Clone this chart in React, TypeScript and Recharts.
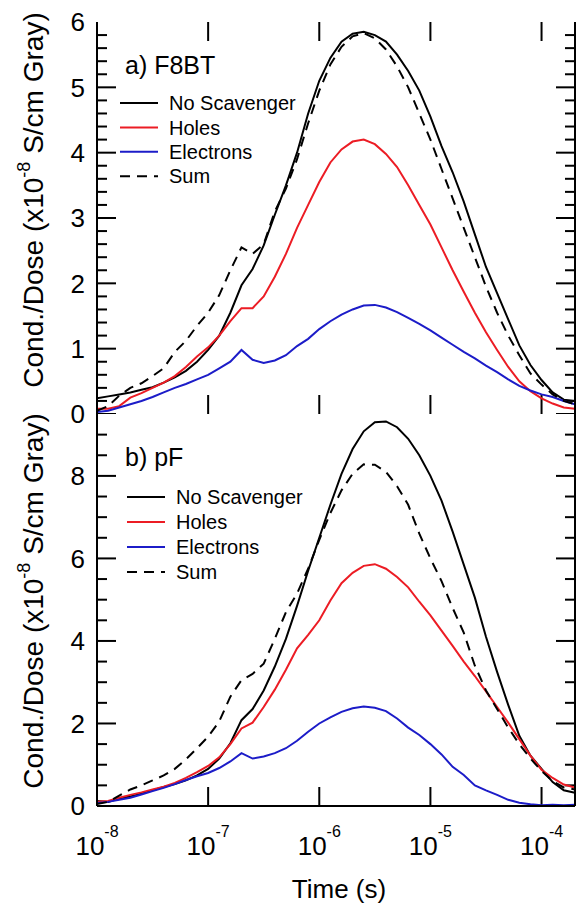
import React from "react";
import { LineChart, Line, XAxis, YAxis, Legend, ReferenceLine, ReferenceArea } from "recharts";

// time grid as log10(t / s)
const LOG_TIME = [
  -8.0, -7.9, -7.8, -7.7, -7.6, -7.5, -7.4, -7.3, -7.2, -7.1, -7.0, -6.9, -6.8, -6.7, -6.6,
  -6.5, -6.4, -6.3, -6.2, -6.1, -6.0, -5.9, -5.8, -5.7, -5.6, -5.5, -5.4, -5.3, -5.2, -5.1,
  -5.0, -4.9, -4.8, -4.7, -4.6, -4.5, -4.4, -4.3, -4.2, -4.1, -4.0, -3.9, -3.8, -3.7,
];

// a) F8BT
const F8BT_NO_SCAVENGER = [
  0.24, 0.27, 0.3, 0.33, 0.37, 0.41, 0.48, 0.56, 0.66, 0.8, 0.98, 1.2, 1.55, 1.97, 2.22,
  2.58, 3.05, 3.5, 4.0, 4.6, 5.1, 5.45, 5.7, 5.82, 5.85, 5.8, 5.7, 5.5, 5.25, 4.95,
  4.55, 4.1, 3.7, 3.25, 2.75, 2.25, 1.85, 1.45, 1.05, 0.75, 0.52, 0.33, 0.22, 0.2,
];
const F8BT_HOLES = [
  0.08, 0.08, 0.12, 0.25, 0.32, 0.4, 0.48, 0.58, 0.72, 0.88, 1.02, 1.2, 1.42, 1.62, 1.62,
  1.8, 2.1, 2.45, 2.85, 3.2, 3.55, 3.85, 4.05, 4.17, 4.2, 4.13, 3.98, 3.78, 3.5, 3.2,
  2.9, 2.55, 2.2, 1.87, 1.55, 1.25, 0.98, 0.72, 0.5, 0.35, 0.24, 0.16, 0.1, 0.08,
];
const F8BT_ELECTRONS = [
  0.03, 0.05, 0.1, 0.15, 0.2, 0.26, 0.33, 0.4, 0.46, 0.53, 0.6, 0.7, 0.8, 0.98, 0.83,
  0.78, 0.82, 0.9, 1.04, 1.15, 1.3, 1.42, 1.52, 1.6, 1.66, 1.67, 1.63, 1.56, 1.47, 1.38,
  1.28, 1.17, 1.06, 0.95, 0.85, 0.74, 0.64, 0.53, 0.43, 0.36, 0.3, 0.26, 0.2, 0.15,
];
const F8BT_SUM = [
  0.05, 0.12, 0.28, 0.4, 0.47, 0.58, 0.7, 0.95, 1.12, 1.35, 1.55, 1.82, 2.2, 2.55, 2.45,
  2.6, 3.1, 3.45, 3.9, 4.45, 4.95, 5.35, 5.62, 5.78, 5.83, 5.75, 5.58, 5.32, 5.0, 4.6,
  4.2, 3.75, 3.3, 2.85, 2.4, 1.95, 1.55, 1.2, 0.9, 0.62, 0.45, 0.3, 0.2, 0.15,
];

// b) pF
const PF_NO_SCAVENGER = [
  0.12, 0.1, 0.18, 0.23, 0.3, 0.38, 0.46, 0.53, 0.62, 0.74, 0.9, 1.15, 1.52, 2.08, 2.35,
  2.8, 3.38, 4.05, 4.85, 5.7, 6.5, 7.3, 8.05, 8.65, 9.08, 9.3, 9.32, 9.18, 8.9, 8.5,
  8.0, 7.4, 6.65, 5.85, 5.05, 4.1, 3.25, 2.45, 1.7, 1.22, 0.9, 0.58, 0.38, 0.32,
];
const PF_HOLES = [
  0.1, 0.12, 0.2, 0.27, 0.33, 0.4, 0.47, 0.56, 0.68, 0.82, 0.97, 1.18, 1.5, 1.88, 2.02,
  2.4, 2.82, 3.3, 3.82, 4.15, 4.5, 4.98, 5.4, 5.65, 5.82, 5.86, 5.75, 5.55, 5.3, 4.95,
  4.62, 4.25, 3.88, 3.5, 3.15, 2.78, 2.4, 2.02, 1.62, 1.22, 0.88, 0.68, 0.52, 0.45,
];
const PF_ELECTRONS = [
  0.07, 0.1, 0.15, 0.2, 0.28, 0.36, 0.44, 0.53, 0.63, 0.72, 0.8, 0.92, 1.08, 1.28, 1.15,
  1.2, 1.28, 1.4, 1.58, 1.8, 2.0, 2.15, 2.28, 2.37, 2.41, 2.38, 2.3, 2.12, 1.9, 1.72,
  1.5, 1.25, 0.95, 0.75, 0.5, 0.38, 0.27, 0.15, 0.08, 0.04, 0.02, 0.03, 0.02, 0.03,
];
const PF_SUM = [
  0.05, 0.1, 0.25, 0.4, 0.5, 0.62, 0.74, 0.9, 1.13, 1.4, 1.68, 2.05, 2.65, 3.05, 3.2,
  3.45, 4.05, 4.7, 5.15, 5.75, 6.45, 7.1, 7.65, 8.05, 8.28, 8.27, 8.1, 7.75, 7.3, 6.6,
  6.0, 5.45, 4.8, 4.2, 3.4, 2.8, 2.35, 1.9, 1.5, 1.15, 0.85, 0.6, 0.45, 0.4,
];

const X_TICKS = [1e-8, 1e-7, 1e-6, 1e-5, 1e-4];
const X_MIN = 1e-8;
const X_MAX = 2e-4;
const F8BT_Y_MAJOR = [0, 1, 2, 3, 4, 5, 6];
const F8BT_Y_MINOR = Array.from({ length: 30 }, (_, i) => Number((i * 0.2).toFixed(1)));
const PF_Y_MAJOR = [0, 2, 4, 6, 8];
const PF_Y_MINOR = Array.from({ length: 19 }, (_, i) => i * 0.5);

const FONT = '"Liberation Sans", Arial, Helvetica, sans-serif';
const RED = "#ec1c24";
const BLUE = "#1c1cc8";
const AXIS_LINE = { stroke: "#000", strokeWidth: 2 };
const PLOT_LEFT = 97;
const PLOT_RIGHT = 575;
const PLOT_W = PLOT_RIGHT - PLOT_LEFT;
const PLOT_H = 392;
const MAJOR_PX = 19;
const MINOR_PX = 10;

const SERIES = [
  { key: "noScavenger", name: "No Scavenger", color: "#000", dash: undefined },
  { key: "holes", name: "Holes", color: RED, dash: undefined },
  { key: "electrons", name: "Electrons", color: BLUE, dash: undefined },
  { key: "sum", name: "Sum", color: "#000", dash: "10 7" },
];

const f8btData = LOG_TIME.map((lt, i) => ({
  t: 10 ** lt,
  noScavenger: F8BT_NO_SCAVENGER[i],
  holes: F8BT_HOLES[i],
  electrons: F8BT_ELECTRONS[i],
  sum: F8BT_SUM[i],
}));

const pfData = LOG_TIME.map((lt, i) => ({
  t: 10 ** lt,
  noScavenger: PF_NO_SCAVENGER[i],
  holes: PF_HOLES[i],
  electrons: PF_ELECTRONS[i],
  sum: PF_SUM[i],
}));

// frame ticks point inward; sizes in px turned into data units
const pxPerDecade = PLOT_W / Math.log10(X_MAX / X_MIN);
const xFactor = (px: number) => 10 ** (px / pxPerDecade);

function timeTicks(yMax: number, withTop: boolean) {
  const dy = (MAJOR_PX * yMax) / PLOT_H;
  const segs: { x: number; y: number }[][] = [];
  X_TICKS.slice(1).forEach((t) => {
    segs.push([{ x: t, y: 0 }, { x: t, y: dy }]);
    if (withTop) segs.push([{ x: t, y: yMax - dy }, { x: t, y: yMax }]);
  });
  return segs;
}

// y ticks as thin boxes: [x1, x2, y1, y2]
function valueTicks(yMax: number, yMajor: number[], yMinor: number[]) {
  const half = yMax / PLOT_H;
  const boxes: number[][] = [];
  yMinor.forEach((v) => {
    const f = xFactor(yMajor.includes(v) ? MAJOR_PX : MINOR_PX);
    const y1 = Math.max(0, v - half);
    const y2 = Math.min(yMax, v + half);
    boxes.push([X_MIN, X_MIN * f, y1, y2]);
    boxes.push([X_MAX / f, X_MAX, y1, y2]);
  });
  return boxes;
}

function YTickLabel({ x = 0, y = 0, payload }: any) {
  return (
    <text x={x - 12} y={y} dy="0.36em" textAnchor="end" fontSize={26} fontFamily={FONT} fill="#000">
      {payload?.value}
    </text>
  );
}

function XTickLabel({ x = 0, y = 0, payload }: any) {
  const exp = Math.round(Math.log10(payload?.value ?? 1));
  return (
    <text x={x} y={y + 49} textAnchor="middle" fontSize={26} fontFamily={FONT} fill="#000">
      10
      <tspan dy={-18} fontSize={16}>
        {exp}
      </tspan>
    </text>
  );
}

function YLabel({ viewBox, shift }: any) {
  const cx = 43;
  const cy = viewBox.y + viewBox.height / 2 + shift;
  return (
    <text
      x={cx}
      y={cy}
      transform={`rotate(-90 ${cx} ${cy})`}
      textAnchor="middle"
      fontSize={28}
      fontFamily={FONT}
      fill="#000"
    >
      Cond./Dose (x10
      <tspan dy={-13} fontSize={18}>
        -8
      </tspan>
      <tspan dy={13}> S/cm Gray)</tspan>
    </text>
  );
}

function TimeLabel({ viewBox }: any) {
  return (
    <text
      x={viewBox.x + viewBox.width / 2 + 3}
      y={viewBox.y + 92}
      textAnchor="middle"
      fontSize={26}
      fontFamily={FONT}
      fill="#000"
    >
      Time (s)
    </text>
  );
}

function PanelLegend({ payload = [], title, layout, size }: any) {
  return (
    <svg width={size.w} height={size.h} style={{ display: "block" }}>
      <text x={125} y={layout.titleY} fontSize={25} fontFamily={FONT} fill="#000">
        {title}
      </text>
      {SERIES.map((s, i) => {
        const entry = payload.find((e: any) => e.dataKey === s.key) || {};
        const y = layout.rowY + i * layout.rowGap;
        return (
          <g key={s.key}>
            <line
              x1={layout.lineX}
              x2={layout.lineX + 38}
              y1={y}
              y2={y}
              stroke={entry.color || s.color}
              strokeWidth={2}
              strokeDasharray={s.dash}
            />
            <text x={layout.lineX + 49} y={y} dy="0.36em" fontSize={20} fontFamily={FONT} fill="#000">
              {entry.value || s.name}
            </text>
          </g>
        );
      })}
    </svg>
  );
}

interface PanelProps {
  top: number;
  height: number;
  marginTop: number;
  marginBottom: number;
  xAxisHeight: number;
  data: any[];
  yMax: number;
  yMajor: number[];
  yMinor: number[];
  showTopTicks: boolean;
  showXLabels: boolean;
  title: string;
  legendLayout: { titleY: number; rowY: number; rowGap: number; lineX: number };
  labelShift: number;
}

function Panel(p: PanelProps) {
  const tTicks = timeTicks(p.yMax, p.showTopTicks);
  const vTicks = valueTicks(p.yMax, p.yMajor, p.yMinor);
  return (
    <div style={{ position: "absolute", left: 0, top: p.top }}>
      <LineChart
        width={577}
        height={p.height}
        data={p.data}
        margin={{ top: p.marginTop, right: 0, bottom: p.marginBottom, left: 0 }}
      >
        <XAxis
          xAxisId="bottom"
          dataKey="t"
          type="number"
          scale="log"
          domain={[X_MIN, X_MAX]}
          allowDataOverflow
          ticks={X_TICKS}
          interval={0}
          height={p.xAxisHeight}
          axisLine={AXIS_LINE}
          tickLine={false}
          tickSize={0}
          tickMargin={0}
          tick={p.showXLabels ? (t: any) => <XTickLabel {...t} /> : false}
          label={p.showXLabels ? (l: any) => <TimeLabel {...l} /> : undefined}
        />
        <XAxis
          xAxisId="top"
          orientation="top"
          dataKey="t"
          type="number"
          scale="log"
          domain={[X_MIN, X_MAX]}
          allowDataOverflow
          ticks={X_TICKS}
          height={0}
          axisLine={p.showTopTicks ? AXIS_LINE : false}
          tickLine={false}
          tick={false}
        />
        <YAxis
          yAxisId="left"
          type="number"
          domain={[0, p.yMax]}
          allowDataOverflow
          ticks={p.yMajor}
          interval={0}
          width={97}
          axisLine={AXIS_LINE}
          tickLine={false}
          tickSize={0}
          tickMargin={0}
          tick={(t: any) => <YTickLabel {...t} />}
          label={(l: any) => <YLabel {...l} shift={p.labelShift} />}
        />
        <YAxis
          yAxisId="right"
          orientation="right"
          type="number"
          domain={[0, p.yMax]}
          allowDataOverflow
          ticks={p.yMajor}
          width={2}
          axisLine={AXIS_LINE}
          tickLine={false}
          tick={false}
        />
        {tTicks.map((seg, i) => (
          <ReferenceLine
            key={`t-${i}`}
            xAxisId="bottom"
            yAxisId="left"
            segment={seg}
            stroke="#000"
            strokeWidth={2}
            ifOverflow="visible"
          />
        ))}
        {vTicks.map(([x1, x2, y1, y2], i) => (
          <ReferenceArea
            key={`v-${i}`}
            xAxisId="bottom"
            yAxisId="left"
            x1={x1}
            x2={x2}
            y1={y1}
            y2={y2}
            fill="#000"
            fillOpacity={1}
            stroke="none"
            ifOverflow="visible"
          />
        ))}
        <Legend
          layout="vertical"
          align="center"
          verticalAlign="middle"
          wrapperStyle={{ left: 0, top: 0, width: 577, height: p.height, pointerEvents: "none" }}
          content={(lp: any) => (
            <PanelLegend {...lp} title={p.title} layout={p.legendLayout} size={{ w: 577, h: p.height }} />
          )}
        />
        {SERIES.map((s) => (
          <Line
            key={s.key}
            xAxisId="bottom"
            yAxisId="left"
            type="linear"
            dataKey={s.key}
            name={s.name}
            stroke={s.color}
            strokeWidth={2}
            strokeDasharray={s.dash}
            dot={false}
            activeDot={false}
            isAnimationActive={false}
          />
        ))}
      </LineChart>
    </div>
  );
}

export default function App() {
  return (
    <div style={{ position: "absolute", left: 0, top: 0, width: 577, height: 903, background: "#fff" }}>
      <Panel
        top={0}
        height={430}
        marginTop={22}
        marginBottom={16}
        xAxisHeight={0}
        data={f8btData}
        yMax={6}
        yMajor={F8BT_Y_MAJOR}
        yMinor={F8BT_Y_MINOR}
        showTopTicks
        showXLabels={false}
        title="a) F8BT"
        legendLayout={{ titleY: 74, rowY: 103, rowGap: 24.4, lineX: 120 }}
        labelShift={-18}
      />
      <Panel
        top={400}
        height={503}
        marginTop={14}
        marginBottom={0}
        xAxisHeight={97}
        data={pfData}
        yMax={9.5}
        yMajor={PF_Y_MAJOR}
        yMinor={PF_Y_MINOR}
        showTopTicks={false}
        showXLabels
        title="b) pF"
        legendLayout={{ titleY: 66, rowY: 97, rowGap: 25, lineX: 127 }}
        labelShift={-9}
      />
    </div>
  );
}
